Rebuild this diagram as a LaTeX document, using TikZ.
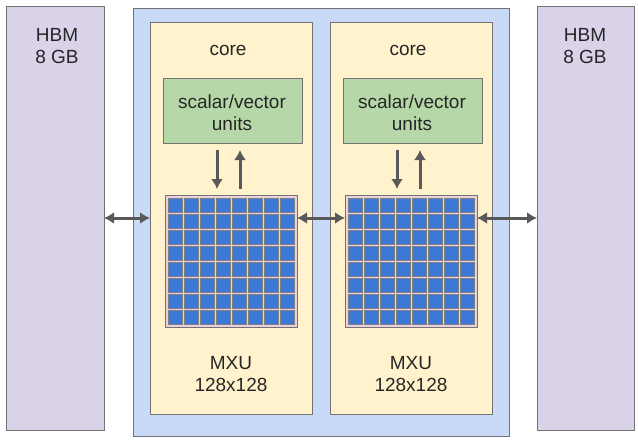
\documentclass[tikz,border=0pt]{standalone}
\usepackage{fontspec}
\setmainfont{Liberation Sans}
\begin{document}
\begin{tikzpicture}[x=1pt,y=-1pt,
  txt/.style={align=center,font=\fontsize{19}{22}\selectfont,text=black!85},
  hbm/.style={draw=black!55,fill=hbmc,line width=0.8pt},
  arr/.style={draw=black!65,line width=3pt,-{Latex[length=10pt,width=12pt]}},
  darr/.style={draw=black!65,line width=3pt,{Latex[length=10pt,width=12pt]}-{Latex[length=10pt,width=12pt]}},
  cell/.style={fill=cellc,draw=black!50,line width=0.3pt}]
\usetikzlibrary{arrows.meta}
\definecolor{hbmc}{HTML}{D9D2E9}
\definecolor{chipc}{HTML}{C9DAF8}
\definecolor{corec}{HTML}{FFF2CC}
\definecolor{unitc}{HTML}{B6D7A8}
\definecolor{mxuc}{HTML}{EAD1DC}
\definecolor{cellc}{HTML}{3C78D8}
\fill[white] (0,0) rectangle (638,442);
\useasboundingbox (0,0) rectangle (638,442);
\draw[hbm] (6,6) rectangle (104,430);
\node[txt] (hbmL) at (57,46) {HBM\\8 GB};
\draw[hbm] (537,6) rectangle (634,430);
\node[txt] (hbmR) at (585,46) {HBM\\8 GB};
\draw[draw=black!55,fill=chipc,line width=0.8pt] (133,8) rectangle (509,436);
\foreach \i/\dx in {1/0,2/180}{
  \begin{scope}[xshift=\dx]
  \draw[draw=black!55,fill=corec,line width=0.8pt] (150,22) rectangle (312,414);
  \node[txt] (core\i) at (228,50) {core};
  \draw[draw=black!55,fill=unitc,line width=0.8pt] (163,78) rectangle (302,143);
  \node[txt] (unit\i) at (232,113) {scalar/vector\\units};
  \draw[draw=black!55,fill=mxuc,line width=0.8pt] (165,195) rectangle (297,327);
  \foreach \r in {0,...,7}{\foreach \c in {0,...,7}{
    \fill[cell] (168.5+16*\c,198.5+16*\r) rectangle ++(14,14);}}
  \coordinate (mxu\i) at (231,261);
  \node[txt] (mxul\i) at (231,374) {MXU\\128x128};
  \draw[arr] (217,150) -- (217,189);
  \draw[arr] (240,189) -- (240,150);
  \end{scope}}
\draw[darr] (104,218) -- (150,218);
\draw[darr] (297,218) -- (345,218);
\draw[darr] (477,218) -- (537,218);
\end{tikzpicture}
\end{document}
